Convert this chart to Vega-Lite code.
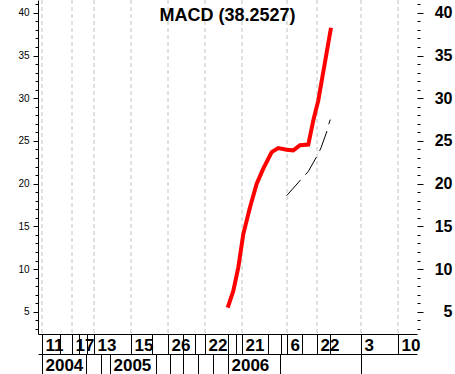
{
  "$schema": "https://vega.github.io/schema/vega-lite/v6.json",
  "width": 379,
  "height": 334,
  "autosize": {"type": "none"},
  "padding": {"left": 38, "top": 0, "right": 38, "bottom": 40},
  "background": "white",
  "config": {
    "view": {"stroke": null},
    "axis": {"labelFont": "Liberation Sans", "titleFont": "Liberation Sans", "labelColor": "black", "tickColor": "black", "domainColor": "black", "grid": false, "title": null}
  },
  "title": {
    "text": "MACD (38.2527)",
    "font": "Liberation Sans",
    "fontSize": 18,
    "fontWeight": "bold",
    "color": "black",
    "anchor": "middle",
    "offset": -21,
    "dy": 18,
    "baseline": "alphabetic"
  },
  "datasets": {
    "grid": [{"g": 4}, {"g": 34}, {"g": 56}, {"g": 93}, {"g": 130}, {"g": 167}, {"g": 204}, {"g": 249}, {"g": 279}, {"g": 323}, {"g": 360}],
    "macd": [
      {"t": 189.7, "v": 5.5}, {"t": 195.3, "v": 7.45}, {"t": 200.3, "v": 10.2}, {"t": 205.3, "v": 14.1},
      {"t": 212, "v": 17.24}, {"t": 218.7, "v": 20.0}, {"t": 225.3, "v": 21.75}, {"t": 233.7, "v": 23.7},
      {"t": 240.3, "v": 24.17}, {"t": 248.7, "v": 23.98}, {"t": 255.3, "v": 23.9}, {"t": 262, "v": 24.5},
      {"t": 270.3, "v": 24.57}, {"t": 275.3, "v": 27.4}, {"t": 280.3, "v": 29.75}, {"t": 293, "v": 38.25}
    ],
    "signal": [
      {"t": 248.7, "v": 18.6}, {"t": 263.7, "v": 20.58}, {"t": 270.3, "v": 21.43}, {"t": 280.3, "v": 23.5},
      {"t": 283, "v": 24.2}, {"t": 289.3, "v": 26.25}, {"t": 291, "v": 27.04}, {"t": 292.3, "v": 27.5}
    ]
  },
  "layer": [
    {
      "data": {"name": "grid"},
      "mark": {"type": "rule", "color": "#c0c0c0", "strokeDash": [4, 3], "strokeWidth": 1},
      "encoding": {
        "x": {
          "field": "g", "type": "quantitative",
          "scale": {"domain": [0, 379], "nice": false, "zero": false},
          "axis": {
            "orient": "bottom",
            "values": [4, 22, 34, 41, 49, 56, 93, 114, 130, 145, 157, 167, 190, 198, 204, 230, 243, 249, 264, 279, 292, 323, 360],
            "labelExpr": "datum.value==4?'11':datum.value==34?'17':datum.value==56?'13':datum.value==93?'15':datum.value==130?'26':datum.value==167?'22':datum.value==204?'21':datum.value==249?'6':datum.value==279?'22':datum.value==323?'3':datum.value==360?'10':''",
            "tickSize": 20,
            "labelPadding": -4,
            "labelBaseline": "alphabetic",
            "labelAlign": "left",
            "labelOffset": 3,
            "labelFontSize": 17,
            "labelFontWeight": "bold",
            "labelOverlap": false,
            "labelFlush": false,
            "labelBound": false,
            "domain": true
          }
        }
      }
    },
    {
      "data": {"name": "macd"},
      "mark": {"type": "line", "color": "#ff0000", "strokeWidth": 4},
      "encoding": {
        "x": {
          "field": "t", "type": "quantitative",
          "scale": {"domain": [0, 379], "nice": false, "zero": false},
          "axis": {
            "orient": "bottom",
            "offset": 20,
            "values": [4, 48, 63, 72, 118, 132, 145, 160, 175, 190, 242, 323],
            "labelExpr": "datum.value==4?'2004':datum.value==72?'2005':datum.value==190?'2006':''",
            "tickSize": 20,
            "labelPadding": -4,
            "labelBaseline": "alphabetic",
            "labelAlign": "left",
            "labelOffset": 3,
            "labelFontSize": 17,
            "labelFontWeight": "bold",
            "labelOverlap": false,
            "labelFlush": false,
            "labelBound": false,
            "domain": true
          }
        },
        "y": {
          "field": "v", "type": "quantitative",
          "scale": {"domain": [2.4, 41.5], "nice": false, "zero": false},
          "axis": {
            "orient": "left",
            "values": [5, 10, 15, 20, 25, 30, 35, 40],
            "tickSize": 5,
            "labelFontSize": 10,
            "labelPadding": 4,
            "domain": true
          }
        }
      }
    },
    {
      "data": {"name": "signal"},
      "mark": {"type": "line", "color": "black", "strokeWidth": 1, "strokeDash": [21, 7]},
      "encoding": {
        "x": {"field": "t", "type": "quantitative", "scale": {"domain": [0, 379], "nice": false, "zero": false}, "axis": null},
        "y": {
          "field": "v", "type": "quantitative",
          "scale": {"domain": [2.4, 41.5], "nice": false, "zero": false},
          "axis": {
            "orient": "right",
            "values": [5, 10, 15, 20, 25, 30, 35, 40],
            "tickSize": 6,
            "labelAlign": "right",
            "labelPadding": 29,
            "labelFontSize": 16,
            "labelFontWeight": "bold",
            "domain": false
          }
        }
      }
    },
    {
      "data": {"name": "macd"},
      "mark": {"type": "line", "strokeOpacity": 0},
      "encoding": {
        "x": {"field": "t", "type": "quantitative", "scale": {"domain": [0, 379], "nice": false, "zero": false}, "axis": null},
        "y": {
          "field": "v", "type": "quantitative",
          "scale": {"domain": [2.4, 41.5], "nice": false, "zero": false},
          "axis": {
            "orient": "left",
            "values": [3, 4, 6, 7, 8, 9, 11, 12, 13, 14, 16, 17, 18, 19, 21, 22, 23, 24, 26, 27, 28, 29, 31, 32, 33, 34, 36, 37, 38, 39, 41],
            "tickSize": 3,
            "labels": false,
            "domain": false
          }
        }
      }
    },
    {
      "data": {"name": "signal"},
      "mark": {"type": "line", "strokeOpacity": 0},
      "encoding": {
        "x": {"field": "t", "type": "quantitative", "scale": {"domain": [0, 379], "nice": false, "zero": false}, "axis": null},
        "y": {
          "field": "v", "type": "quantitative",
          "scale": {"domain": [2.4, 41.5], "nice": false, "zero": false},
          "axis": {
            "orient": "right",
            "values": [3, 4, 6, 7, 8, 9, 11, 12, 13, 14, 16, 17, 18, 19, 21, 22, 23, 24, 26, 27, 28, 29, 31, 32, 33, 34, 36, 37, 38, 39, 41],
            "tickSize": 3,
            "labels": false,
            "domain": false
          }
        }
      }
    }
  ],
  "resolve": {"axis": {"x": "independent", "y": "independent"}}
}
